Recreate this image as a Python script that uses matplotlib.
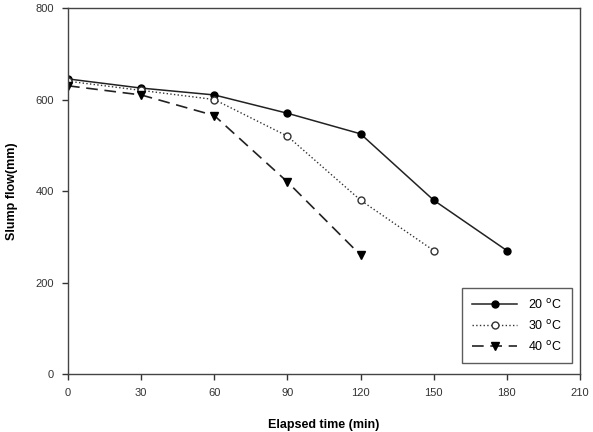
import matplotlib
matplotlib.use('Agg')
import matplotlib.pyplot as plt

plt.rcParams['font.family'] = ['Liberation Sans', 'DejaVu Sans']

# Slump flow vs elapsed time at three temperatures.
time_20 = [0, 30, 60, 90, 120, 150, 180]
flow_20 = [645, 625, 610, 570, 525, 380, 270]
time_30 = [0, 30, 60, 90, 120, 150]
flow_30 = [640, 620, 600, 520, 380, 270]
time_40 = [0, 30, 60, 90, 120]
flow_40 = [630, 610, 565, 420, 260]

fig = plt.figure(figsize=(5.93, 4.32), dpi=100)
ax = fig.add_axes([0.1147, 0.134, 0.8633, 0.8475])

ax.plot(time_20, flow_20, '-', color='#222222', lw=1.1,
        marker='o', ms=5, mfc='black', mec='black', label=r'20 $^{\rm o}$C')
ax.plot(time_30, flow_30, ':', color='#333333', lw=1.0,
        marker='o', ms=5, mfc='white', mec='#333333', label=r'30 $^{\rm o}$C')
ax.plot(time_40, flow_40, '--', color='#222222', lw=1.2, dashes=(7, 4),
        marker='v', ms=6, mfc='black', mec='black', label=r'40 $^{\rm o}$C')

ax.set_xlim(0, 210)
ax.set_ylim(0, 800)
ax.set_xticks(range(0, 211, 30))
ax.set_yticks(range(0, 801, 200))
ax.tick_params(direction='out', length=4, width=1, labelsize=8,
               colors='#333333', pad=6)
for s in ax.spines.values():
    s.set_color('#444444')
    s.set_linewidth(1.0)

ax.set_xlabel('Elapsed time (min)', fontsize=9, fontweight='bold', labelpad=15)
ax.set_ylabel('Slump flow(mm)', fontsize=9, fontweight='bold', labelpad=13)

leg = ax.legend(loc='lower right', fontsize=9, frameon=True, fancybox=False,
                edgecolor='#333333', handlelength=3.6, borderpad=0.8,
                labelspacing=0.55, handletextpad=0.9,
                bbox_to_anchor=(0.997, 0.012))
leg.get_frame().set_linewidth(1.0)

fig.savefig('out.png', dpi=100)
